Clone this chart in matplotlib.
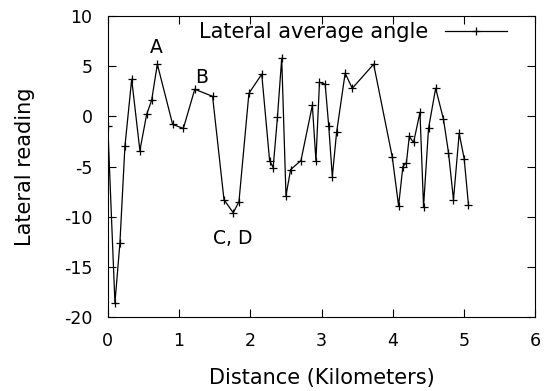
import matplotlib
matplotlib.use('Agg')
import matplotlib.pyplot as plt

# Lateral average angle along the route
distance_km = [0.00, 0.10, 0.17, 0.24, 0.335, 0.45, 0.545, 0.615, 0.695, 0.91,
               1.06, 1.22, 1.47, 1.63, 1.76, 1.84, 1.98, 2.16, 2.27, 2.32,
               2.38, 2.44, 2.50, 2.565, 2.71, 2.87, 2.92, 2.97, 3.05, 3.10,
               3.15, 3.21, 3.33, 3.43, 3.73, 3.99, 4.08, 4.14, 4.19, 4.23,
               4.29, 4.38, 4.43, 4.50, 4.60, 4.71, 4.78, 4.85, 4.93, 5.00,
               5.06]
lateral = [-1.0, -18.6, -12.6, -3.0, 3.7, -3.4, 0.2, 1.6, 5.2, -0.8,
           -1.2, 2.7, 2.0, -8.3, -9.6, -8.5, 2.3, 4.2, -4.4, -5.1,
           -0.1, 5.8, -7.9, -5.3, -4.4, 1.1, -4.4, 3.4, 3.2, -1.0,
           -6.0, -1.6, 4.3, 2.8, 5.2, -4.0, -8.9, -5.0, -4.6, -2.0,
           -2.6, 0.4, -9.0, -1.2, 2.8, -0.3, -3.6, -8.3, -1.7, -4.2,
           -8.8]

# annotated waypoints
point_labels = ['A', 'B', 'C, D']
label_x = [0.68, 1.32, 1.76]
label_y = [6.9, 3.9, -12.2]

plt.rcParams['font.family'] = ['DejaVu Sans']
plt.rcParams['axes.unicode_minus'] = False

fig = plt.figure(figsize=(5.52, 3.91), dpi=100)
ax = fig.add_axes([0.1953, 0.189, 0.7747, 0.770])

ax.plot(distance_km, lateral, color='black', linewidth=0.9,
        marker='+', markersize=5.5, markeredgewidth=0.9,
        label='Lateral average angle')

for txt, lx, ly in zip(point_labels, label_x, label_y):
    ax.text(lx, ly, txt, ha='center', va='center', fontsize=13.5)

ax.set_xlim(0, 6)
ax.set_ylim(-20, 10)
ax.set_xticks(range(0, 7))
ax.set_yticks(range(-20, 11, 5))
ax.tick_params(direction='in', top=True, right=True, length=6, width=0.8,
               labelsize=12.5, pad=11)
for s in ax.spines.values():
    s.set_linewidth(0.8)

ax.set_xlabel('Distance (Kilometers)', fontsize=15, labelpad=13)
ax.set_ylabel('Lateral reading', fontsize=15, labelpad=21)

ax.legend(loc='upper right', bbox_to_anchor=(507 / 552, 1 - 22 / 391),
          bbox_transform=fig.transFigure, frameon=False, markerfirst=False,
          fontsize=15, handlelength=3.0, handletextpad=0.77,
          borderpad=0, borderaxespad=0)

fig.savefig('out.png', dpi=100)
